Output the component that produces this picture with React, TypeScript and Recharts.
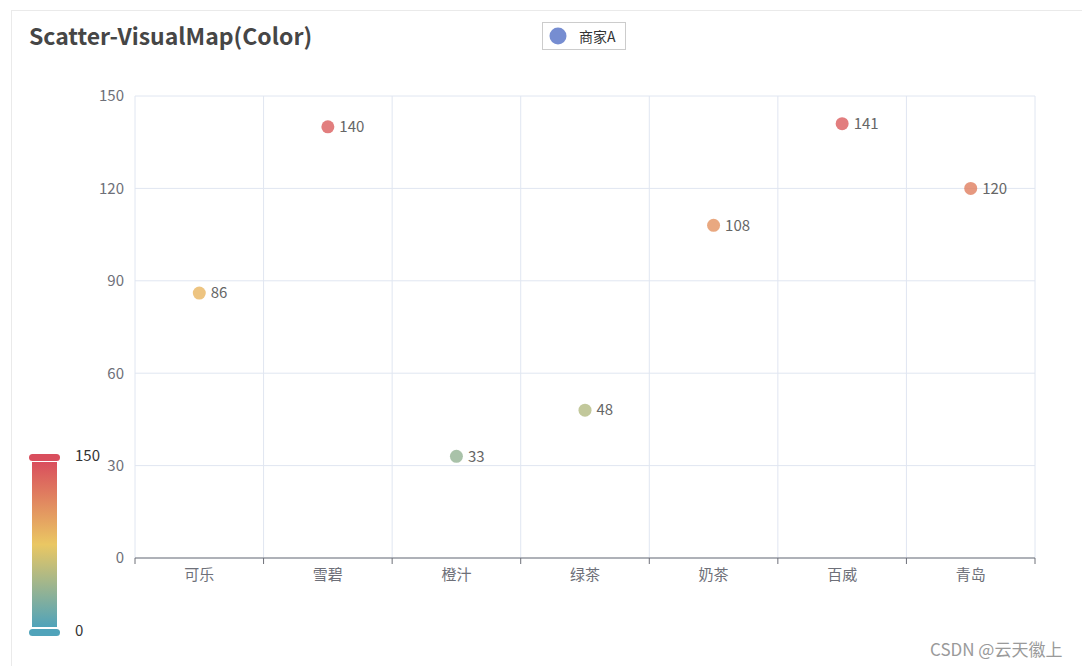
import { ScatterChart, Scatter, XAxis, YAxis, CartesianGrid, LabelList } from 'recharts';

const categories = ['可乐', '雪碧', '橙汁', '绿茶', '奶茶', '百威', '青岛'];
const values = [86, 140, 33, 48, 108, 141, 120];
const yTicks = [0, 30, 60, 90, 120, 150];
const seriesName = '商家A';
const mapMin = 0;
const mapMax = 150;

const FONT = '"Noto Sans CJK SC", "Noto Sans", sans-serif';
const AXIS_COLOR = '#6e7079';
const GRID_COLOR = '#e0e6f1';

// visualMap colors (low -> mid -> high)
const mapColors = ['#50a3ba', '#eac763', '#d94e5d'];

function hexToRgb(hex: string) {
  const n = parseInt(hex.slice(1), 16);
  return [(n >> 16) & 255, (n >> 8) & 255, n & 255];
}

function colorFor(v: number) {
  const t = Math.max(0, Math.min(1, (v - mapMin) / (mapMax - mapMin)));
  const seg = t < 0.5 ? 0 : 1;
  const local = seg === 0 ? t / 0.5 : (t - 0.5) / 0.5;
  const a = hexToRgb(mapColors[seg]);
  const b = hexToRgb(mapColors[seg + 1]);
  const c = a.map((ch, i) => Math.round(ch + (b[i] - ch) * local));
  return `rgb(${c[0]}, ${c[1]}, ${c[2]})`;
}

const data = categories.map((name, i) => ({ name, x: i + 0.5, y: values[i], color: colorFor(values[i]) }));

// category boundaries (grid lines + tick marks) and centres (labels)
const boundaryTicks = categories.map((_, i) => i).concat(categories.length);
const axisTicks = boundaryTicks.concat(categories.map((_, i) => i + 0.5)).sort((a, b) => a - b);

function XTick(props: any) {
  const { x, y, payload } = props;
  const v = payload.value;
  if (Number.isInteger(v)) {
    return <line x1={x} x2={x} y1={y - 11} y2={y - 5} stroke={AXIS_COLOR} strokeWidth={1} />;
  }
  return (
    <text x={x} y={y} dy="0.75em" textAnchor="middle" fill={AXIS_COLOR} fontSize={15} fontFamily={FONT}>
      {categories[Math.floor(v)]}
    </text>
  );
}

function Dot(props: any) {
  const { cx, cy, payload } = props;
  return <circle cx={cx} cy={cy} r={6.5} fill={payload.color} fillOpacity={0.8} />;
}

function gridX({ xAxis, offset }: any) {
  if (xAxis && typeof xAxis.scale === 'function') return boundaryTicks.map((t) => xAxis.scale(t));
  return boundaryTicks.map((t) => offset.left + (t / categories.length) * offset.width);
}

export default function App() {
  return (
    <div style={{ position: 'absolute', left: 0, top: 0, width: 1082, height: 666, background: '#fff', overflow: 'hidden', fontFamily: FONT }}>
      <div style={{ position: 'absolute', left: 11, top: 10, width: 1100, height: 700, borderLeft: '1px solid #eaeaea', borderTop: '1px solid #eaeaea' }} />
      <div style={{ position: 'absolute', left: 29, top: 18, fontSize: 23, fontWeight: 700, color: '#464646', whiteSpace: 'nowrap' }}>
        Scatter-VisualMap(Color)
      </div>

      {/* legend */}
      <div style={{
        position: 'absolute', left: 542, top: 22, width: 84, height: 28, display: 'flex', alignItems: 'center',
        border: '1px solid #ccc', boxSizing: 'border-box', paddingLeft: 6, fontSize: 14, color: '#333',
      }}>
        <svg width={18} height={18} style={{ marginRight: 12 }}>
          <circle cx={9} cy={9} r={8.5} fill="#5470c6" fillOpacity={0.8} />
        </svg>
        <span>{seriesName}</span>
      </div>

      <div style={{ position: 'absolute', left: 0, top: 0 }}>
        <ScatterChart width={1082} height={666} margin={{ top: 96, right: 47, bottom: 78, left: 0 }}>
          <CartesianGrid stroke={GRID_COLOR} strokeWidth={1} verticalCoordinatesGenerator={gridX} />
          <XAxis
            type="number"
            dataKey="x"
            domain={[0, categories.length]}
            ticks={axisTicks}
            interval={0}
            height={30}
            tickSize={6}
            tickMargin={5}
            tickLine={false}
            axisLine={{ stroke: AXIS_COLOR }}
            tick={<XTick />}
          />
          <YAxis
            type="number"
            dataKey="y"
            domain={[0, 150]}
            ticks={yTicks}
            width={135}
            axisLine={false}
            tickLine={false}
            tickSize={6}
            tickMargin={5}
            tick={{ fill: AXIS_COLOR, fontSize: 15, fontFamily: FONT }}
          />
          <Scatter name={seriesName} data={data} shape={<Dot />} isAnimationActive={false}>
            <LabelList dataKey="y" position="right" offset={7} fill="#666" fontSize={15} fontFamily={FONT} />
          </Scatter>
        </ScatterChart>
      </div>

      {/* visualMap */}
      <div style={{ position: 'absolute', left: 29, top: 454, width: 31, height: 7, borderRadius: 4, background: mapColors[2] }} />
      <div style={{
        position: 'absolute', left: 32, top: 462, width: 25, height: 165,
        background: `linear-gradient(to bottom, ${mapColors[2]}, ${mapColors[1]}, ${mapColors[0]})`,
      }} />
      <div style={{ position: 'absolute', left: 29, top: 629, width: 31, height: 7, borderRadius: 4, background: mapColors[0] }} />
      <div style={{ position: 'absolute', left: 75, top: 444, fontSize: 15, color: '#333' }}>{mapMax}</div>
      <div style={{ position: 'absolute', left: 75, top: 619, fontSize: 15, color: '#333' }}>{mapMin}</div>

      <div style={{ position: 'absolute', left: 930, top: 636, fontSize: 17, color: '#9a9a9a', whiteSpace: 'nowrap' }}>
        CSDN @云天徽上
      </div>
    </div>
  );
}
